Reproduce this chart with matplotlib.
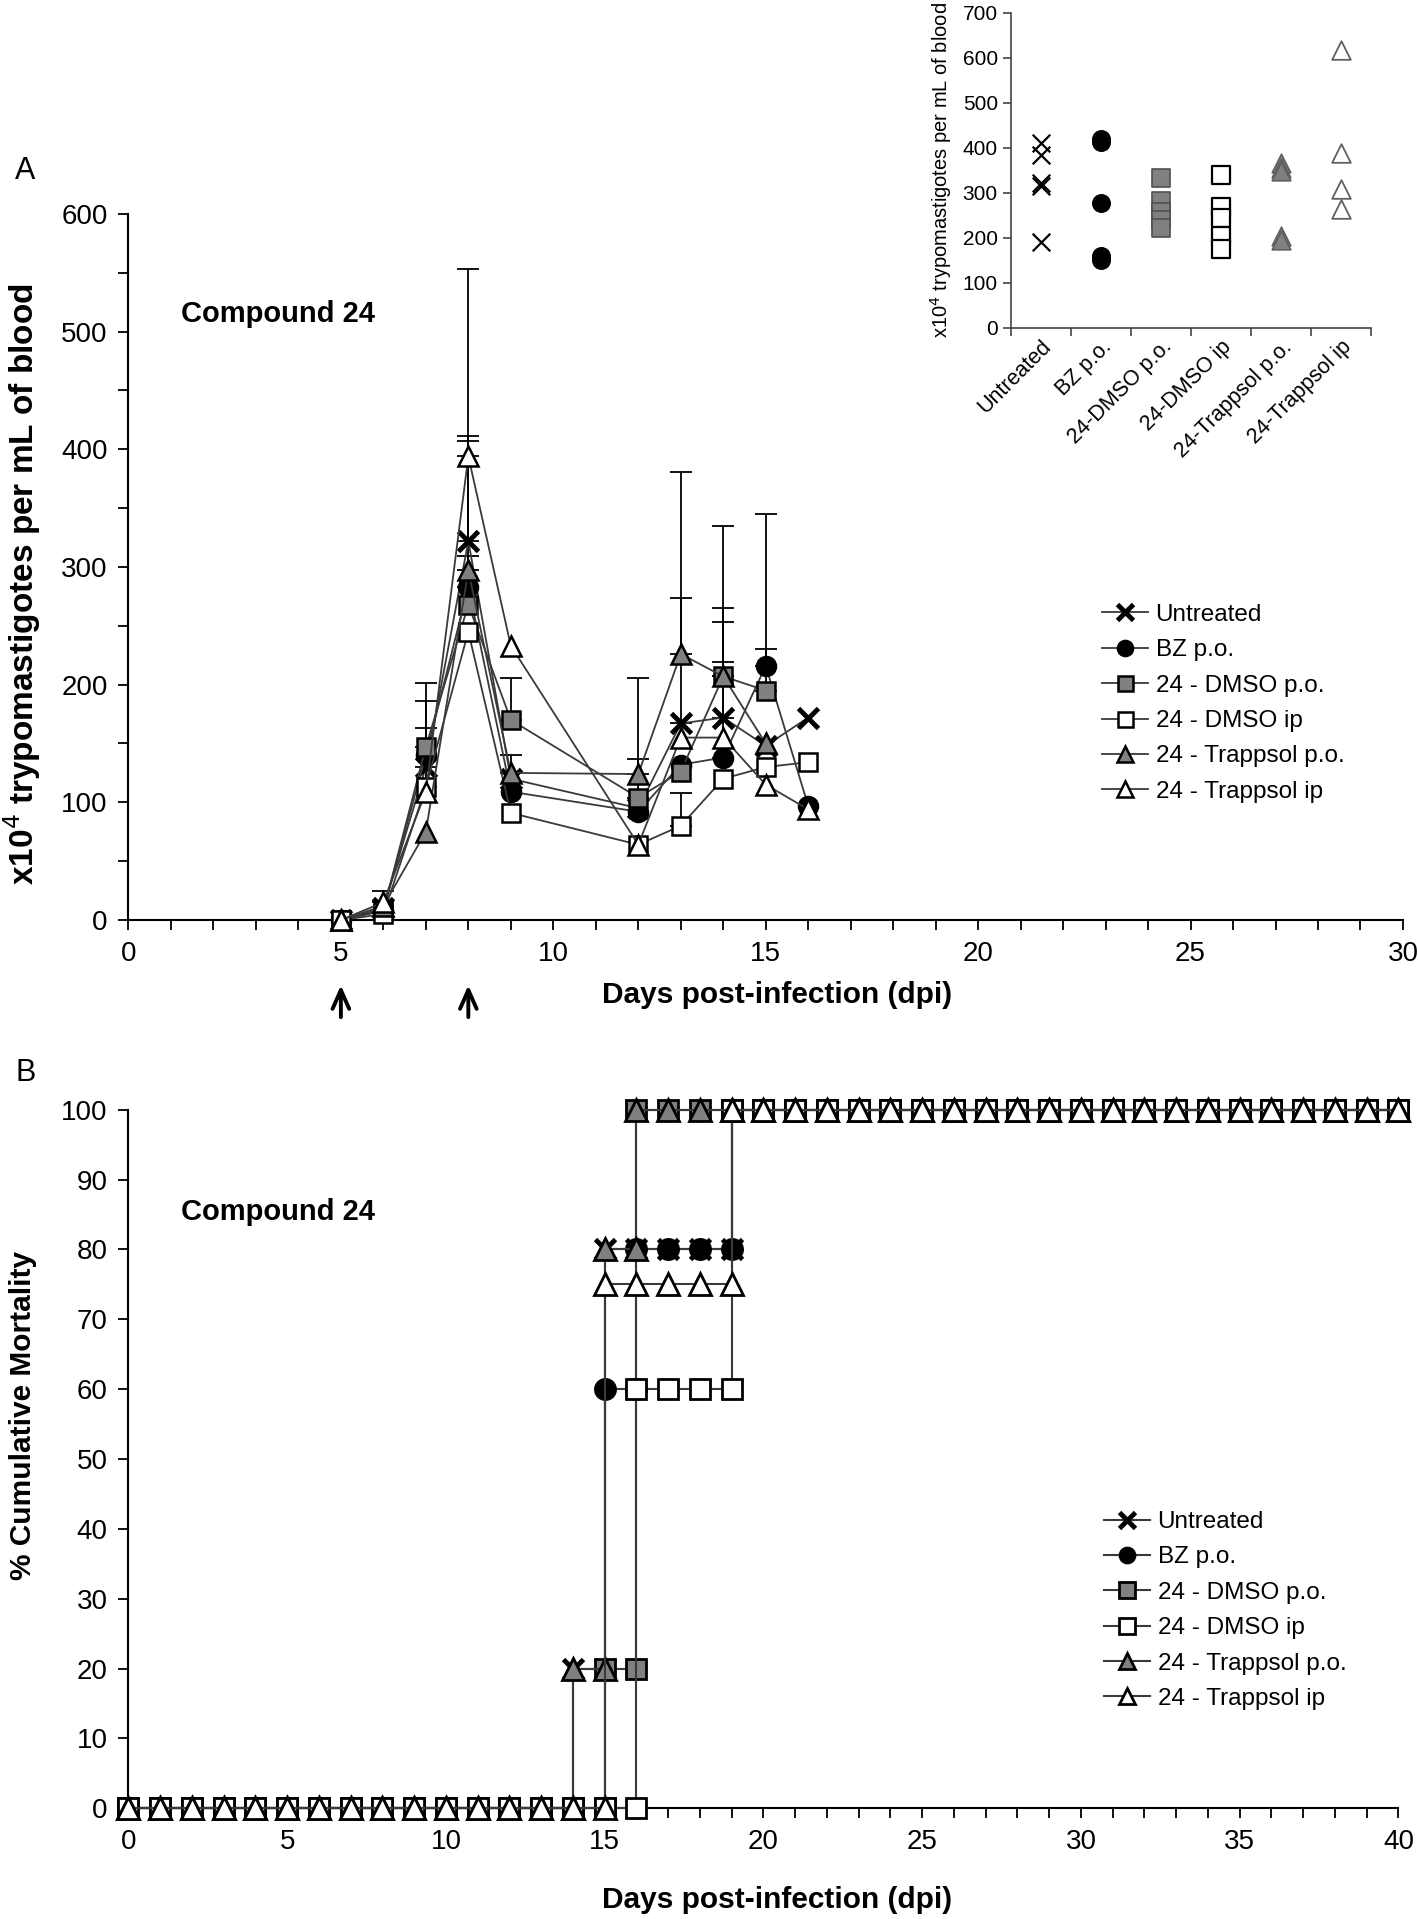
import numpy as np
import matplotlib
matplotlib.use("Agg")
import matplotlib.pyplot as plt
from matplotlib.ticker import MultipleLocator, FixedLocator, NullFormatter

plt.rcParams['font.family'] = ['Liberation Sans', 'DejaVu Sans']

# ---------------- Panel A data ----------------
labels = ["Untreated", "BZ p.o.", "24 - DMSO p.o.", "24 - DMSO ip",
          "24 - Trappsol p.o.", "24 - Trappsol ip"]
days_A = [5, 6, 7, 8, 9, 12, 13, 14, 15, 16]
untreated_A = [0, 10, 130, 322, 120, 95, 167, 172, 148, 172]
bz_A = [0, 8, 140, 283, 109, 92, 132, 138, 216, 97]
dmso_po_A = [0, 8, 147, 268, 170, 104, 126, 207, 195]
dmso_ip_A = [0, 5, 113, 245, 91, 64, 80, 120, 130, 134]
trap_po_A = [0, 12, 75, 297, 125, 124, 226, 207, 150]
trap_ip_A = [0, 15, 109, 394, 233, 64, 155, 155, 115, 94]

# upper error bars (0 = none drawn)
untreated_err = [0, 0, 56, 231, 0, 0, 107, 93, 0, 0]
bz_err = [0, 0, 0, 124, 0, 0, 0, 81, 129, 0]
dmso_po_err = [0, 0, 54, 0, 36, 33, 0, 128, 35]
dmso_ip_err = [0, 0, 50, 0, 0, 0, 28, 0, 0, 0]
trap_po_err = [0, 0, 0, 12, 15, 82, 155, 46, 0]
trap_ip_err = [0, 10, 0, 17, 0, 0, 0, 0, 0, 0]

# ---------------- Inset data ----------------
inset_cats = ["Untreated", "BZ p.o.", "24-DMSO p.o.", "24-DMSO ip",
              "24-Trappsol p.o.", "24-Trappsol ip"]
ins_untreated = [410, 385, 322, 316, 190]
ins_bz = [420, 412, 277, 160, 150]
ins_dmso_po = [333, 281, 258, 240, 222]
ins_dmso_ip = [339, 268, 245, 205, 176]
ins_trap_po = [367, 355, 348, 205, 195]
ins_trap_ip = [618, 388, 308, 265]

# ---------------- Panel B data (cumulative mortality step events) ----------------
untreated_B_days = [14, 15, 19]
untreated_B_pct = [20, 80, 100]
bz_B_days = [15, 16, 19]
bz_B_pct = [60, 80, 100]
dmso_po_B_days = [15, 16]
dmso_po_B_pct = [20, 100]
dmso_ip_B_days = [16, 19]
dmso_ip_B_pct = [60, 100]
trap_po_B_days = [14, 15, 16]
trap_po_B_pct = [20, 80, 100]
trap_ip_B_days = [15, 19]
trap_ip_B_pct = [75, 100]
B_last_day = 40


def step_points(ev_days, ev_pct, last_day):
    xs, ys = [], []
    cur = 0
    ev = dict(zip(ev_days, ev_pct))
    for d in range(0, last_day + 1):
        if d in ev:
            xs.append(d); ys.append(cur)
            cur = ev[d]
        xs.append(d); ys.append(cur)
    return xs, ys


GRAY = '#808080'
LINEC = '#3a3a3a'
styles = [
    dict(marker='x', ms=14, mew=3.5, mfc='black', mec='black'),
    dict(marker='o', ms=14, mew=1.5, mfc='black', mec='black'),
    dict(marker='s', ms=13.5, mew=1.8, mfc=GRAY, mec='black'),
    dict(marker='s', ms=13.5, mew=1.8, mfc='white', mec='black'),
    dict(marker='^', ms=15, mew=1.8, mfc=GRAY, mec='black'),
    dict(marker='^', ms=15, mew=1.8, mfc='white', mec='black'),
]

fig = plt.figure(figsize=(14.18, 19.19), dpi=100)

# ================= Panel A =================
axA = fig.add_axes([0.0906, 0.5206, 0.8988, 0.3679])
seriesA = [untreated_A, bz_A, dmso_po_A, dmso_ip_A, trap_po_A, trap_ip_A]
errsA = [untreated_err, bz_err, dmso_po_err, dmso_ip_err, trap_po_err, trap_ip_err]
handles = []
for i, (vals, errs) in enumerate(zip(seriesA, errsA)):
    d = np.array(days_A[:len(vals)])
    v = np.array(vals, dtype=float)
    e = np.array(errs, dtype=float)
    m = e > 0
    if m.any():
        axA.errorbar(d[m], v[m], yerr=[np.zeros(m.sum()), e[m]], fmt='none',
                     ecolor='black', elinewidth=1.3, capsize=8, capthick=1.3,
                     zorder=2)
    h, = axA.plot(d, v, color=LINEC, lw=1.3, label=labels[i], zorder=3 + i,
                  clip_on=False, **styles[i])
    handles.append(h)

axA.set_xlim(0, 30)
axA.set_ylim(0, 600)
axA.xaxis.set_major_locator(MultipleLocator(5))
axA.xaxis.set_minor_locator(MultipleLocator(1))
axA.yaxis.set_major_locator(MultipleLocator(100))
axA.yaxis.set_minor_locator(MultipleLocator(50))
axA.spines['top'].set_visible(False)
axA.spines['right'].set_visible(False)
for s in ['left', 'bottom']:
    axA.spines[s].set_linewidth(1.5)
axA.tick_params(which='both', direction='out', length=7, width=1.3)
axA.tick_params(axis='both', which='major', labelsize=20, pad=8)
axA.text(1.24, 515, "Compound 24", fontsize=21, fontweight='bold',
         va='center', ha='left')
axA.legend(handles=handles, loc='upper left', bbox_to_anchor=(0.7772, 0.6853),
           bbox_transform=fig.transFigure, frameon=False, fontsize=17.5,
           handlelength=1.9, handletextpad=0.3, labelspacing=0.55,
           borderpad=0, borderaxespad=0, markerscale=0.8)

fig.text(0.5483, 0.4815, "Days post-infection (dpi)", fontsize=21.5,
         fontweight='bold', ha='center', va='center')
fig.text(0.0155, 0.6957, "x10$^{4}$ trypomastigotes per mL of blood",
         fontsize=24, fontweight='bold', ha='center', va='center',
         rotation=90)
fig.text(0.0106, 0.9109, "A", fontsize=22, ha='left', va='center')

for xd in [5, 8]:
    axA.annotate('', xy=(xd, 0.4880), xytext=(xd, 0.4685),
                 xycoords=('data', 'figure fraction'),
                 textcoords=('data', 'figure fraction'),
                 arrowprops=dict(arrowstyle='->,head_length=0.45,head_width=0.2',
                                 lw=2.8, color='black', mutation_scale=30))

# ================= Inset =================
axI = fig.add_axes([0.713, 0.8291, 0.2539, 0.1642])
ins_series = [ins_untreated, ins_bz, ins_dmso_po, ins_dmso_ip, ins_trap_po, ins_trap_ip]
ins_styles = [
    dict(marker='x', s=160, linewidths=1.6, c='black'),
    dict(marker='o', s=160, linewidths=1.0, c='black', edgecolors='black'),
    dict(marker='s', s=150, linewidths=1.2, c=GRAY, edgecolors='#505050'),
    dict(marker='s', s=150, linewidths=1.6, c='white', edgecolors='black'),
    dict(marker='^', s=180, linewidths=1.2, c=GRAY, edgecolors='#606060'),
    dict(marker='^', s=180, linewidths=1.3, c='white', edgecolors='#606060'),
]
for i, vals in enumerate(ins_series):
    axI.scatter(np.full(len(vals), i + 0.5), vals, zorder=3, clip_on=False,
                **ins_styles[i])
axI.set_xlim(0, 6)
axI.set_ylim(0, 700)
axI.yaxis.set_major_locator(MultipleLocator(100))
axI.xaxis.set_major_locator(FixedLocator(range(0, 7)))
axI.xaxis.set_major_formatter(NullFormatter())
axI.xaxis.set_minor_locator(FixedLocator([i + 0.5 for i in range(6)]))
axI.set_xticklabels(inset_cats, minor=True, rotation=45, ha='right',
                    rotation_mode='anchor', fontsize=15.5)
axI.tick_params(axis='x', which='minor', length=0, pad=6)
axI.tick_params(axis='x', which='major', direction='out', length=6, width=1.2,
                color='#444444')
axI.tick_params(axis='y', direction='out', length=6, width=1.2,
                color='#444444', labelsize=15)
axI.spines['top'].set_visible(False)
axI.spines['right'].set_visible(False)
for s in ['left', 'bottom']:
    axI.spines[s].set_linewidth(1.2)
    axI.spines[s].set_color('#444444')
axI.set_ylabel("x10$^{4}$ trypomastigotes per mL of blood", fontsize=14.5,
               labelpad=6)

# ================= Panel B =================
axB = fig.add_axes([0.0906, 0.0577, 0.8956, 0.364])
B_events = [(untreated_B_days, untreated_B_pct), (bz_B_days, bz_B_pct),
            (dmso_po_B_days, dmso_po_B_pct), (dmso_ip_B_days, dmso_ip_B_pct),
            (trap_po_B_days, trap_po_B_pct), (trap_ip_B_days, trap_ip_B_pct)]
stylesB = [
    dict(marker='x', ms=15, mew=3.5, mfc='black', mec='black'),
    dict(marker='o', ms=15, mew=1.5, mfc='black', mec='black'),
    dict(marker='s', ms=15, mew=2.0, mfc=GRAY, mec='black'),
    dict(marker='s', ms=15, mew=2.0, mfc='white', mec='black'),
    dict(marker='^', ms=16, mew=2.0, mfc=GRAY, mec='black'),
    dict(marker='^', ms=16, mew=2.0, mfc='white', mec='black'),
]
handlesB = []
for i, (ed, ep) in enumerate(B_events):
    xs, ys = step_points(ed, ep, B_last_day)
    h, = axB.plot(xs, ys, color=LINEC, lw=1.5, label=labels[i], zorder=3 + i,
                  clip_on=False, **stylesB[i])
    handlesB.append(h)
axB.set_xlim(0, 40)
axB.set_ylim(0, 100)
axB.xaxis.set_major_locator(MultipleLocator(5))
axB.xaxis.set_minor_locator(MultipleLocator(1))
axB.yaxis.set_major_locator(MultipleLocator(10))
axB.spines['top'].set_visible(False)
axB.spines['right'].set_visible(False)
for s in ['left', 'bottom']:
    axB.spines[s].set_linewidth(1.5)
axB.tick_params(which='both', direction='out', length=7, width=1.3)
axB.tick_params(axis='both', which='major', labelsize=20, pad=8)
axB.text(1.65, 85.3, "Compound 24", fontsize=21, fontweight='bold',
         va='center', ha='left')
axB.legend(handles=handlesB, loc='upper left', bbox_to_anchor=(0.7786, 0.2126),
           bbox_transform=fig.transFigure, frameon=False, fontsize=17.5,
           handlelength=1.9, handletextpad=0.3, labelspacing=0.55,
           borderpad=0, borderaxespad=0, markerscale=0.75)
fig.text(0.548, 0.010, "Days post-infection (dpi)", fontsize=21.5,
         fontweight='bold', ha='center', va='center')
fig.text(0.0165, 0.2626, "% Cumulative Mortality", fontsize=21.5,
         fontweight='bold', ha='center', va='center', rotation=90)
fig.text(0.0106, 0.4409, "B", fontsize=22, ha='left', va='center')

fig.savefig("out.png", dpi=100)
